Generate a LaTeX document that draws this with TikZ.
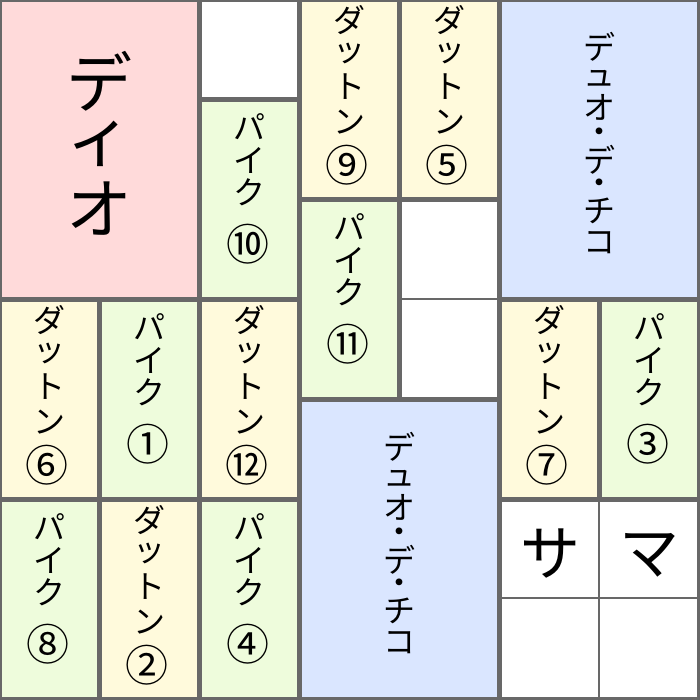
\documentclass[tikz,border=0pt]{standalone}
\usepackage{fontspec}
\setmainfont{Noto Sans CJK JP}
\definecolor{gridgray}{RGB}{104,104,104}
\definecolor{pinkc}{RGB}{255,218,218}
\definecolor{greenc}{RGB}{238,252,220}
\definecolor{yellowc}{RGB}{255,250,220}
\definecolor{bluec}{RGB}{218,230,255}
\tikzset{
  ch/.style={inner sep=0pt, font=\fontsize{32}{32}\selectfont},
  circch/.style={inner sep=0pt, font=\fontsize{43}{43}\selectfont},
  bigch/.style={inner sep=0pt, font=\fontsize{66}{66}\selectfont},
  midch/.style={inner sep=0pt, font=\fontsize{60}{60}\selectfont},
  thinline/.style={gridgray, line width=2pt}
}
\newcommand\rgn[5]{\fill[#5] ({#1*100+2},{#2*100+2}) rectangle ({#3*100-3},{#4*100-3});}
% name, center x, top y, circled number
\newcommand\datton[4]{%
  \node[ch] (#1a) at (#2,#3+20) {ダ};
  \node[ch] (#1b) at (#2,#3+53) {ッ};
  \node[ch] (#1c) at (#2,#3+87) {ト};
  \node[ch] (#1d) at (#2,#3+122) {ン};
  \node[circch] (#1e) at (#2-2,#3+165) {#4};}
\newcommand\pike[4]{%
  \node[ch] (#1a) at (#2,#3+27) {パ};
  \node[ch] (#1b) at (#2,#3+60) {イ};
  \node[ch] (#1c) at (#2,#3+92) {ク};
  \node[circch] (#1e) at (#2-1,#3+144) {#4};}
\newcommand\duo[3]{%
  \node[ch] (#1a) at (#2,#3+47) {デ};
  \node[ch] (#1b) at (#2,#3+78) {ュ};
  \node[ch] (#1c) at (#2,#3+107) {オ};
  \node[ch] (#1d) at (#2,#3+136) {・};
  \node[ch] (#1e) at (#2,#3+160) {デ};
  \node[ch] (#1f) at (#2,#3+187) {・};
  \node[ch] (#1g) at (#2,#3+211) {チ};
  \node[ch] (#1h) at (#2,#3+243) {コ};}
\begin{document}
\begin{tikzpicture}[x=1pt,y=-1pt]
\useasboundingbox (0,0) rectangle (700,700);
\fill[gridgray] (0,0) rectangle (700,700);
% regions
\rgn{0}{0}{2}{3}{pinkc}
\rgn{2}{0}{3}{1}{white}
\rgn{2}{1}{3}{3}{greenc}
\rgn{3}{0}{4}{2}{yellowc}
\rgn{4}{0}{5}{2}{yellowc}
\rgn{5}{0}{7}{3}{bluec}
\rgn{3}{2}{4}{4}{greenc}
\rgn{4}{2}{5}{4}{white}
\rgn{0}{3}{1}{5}{yellowc}
\rgn{1}{3}{2}{5}{greenc}
\rgn{2}{3}{3}{5}{yellowc}
\rgn{3}{4}{5}{7}{bluec}
\rgn{5}{3}{6}{5}{yellowc}
\rgn{6}{3}{7}{5}{greenc}
\rgn{5}{5}{7}{7}{white}
\rgn{0}{5}{1}{7}{greenc}
\rgn{1}{5}{2}{7}{yellowc}
\rgn{2}{5}{3}{7}{greenc}
% thin lines inside white blocks
\draw[thinline] (402,298.5) -- (497,298.5);
\draw[thinline] (502,598) -- (697,598);
\draw[thinline] (599,502) -- (599,697);
% texts
\node[bigch] (dioa) at (99,81) {デ};
\node[bigch] (diob) at (99,144) {ィ};
\node[bigch] (dioc) at (99,209) {オ};
\node[midch] (sa) at (550,554) {サ};
\node[midch] (ma) at (649,555) {マ};
\datton{d9}{349}{0}{⑨}
\datton{d5}{449}{0}{⑤}
\datton{d6}{49}{300}{⑥}
\datton{d12}{249}{300}{⑫}
\datton{d7}{549}{300}{⑦}
\datton{d2}{149}{500}{②}
\pike{p10}{249}{100}{⑩}
\pike{p11}{349}{200}{⑪}
\pike{p1}{149}{300}{①}
\pike{p3}{649}{300}{③}
\pike{p8}{49}{500}{⑧}
\pike{p4}{249}{500}{④}
\duo{du1}{599}{0}
\duo{du2}{399}{400}
\end{tikzpicture}
\end{document}
